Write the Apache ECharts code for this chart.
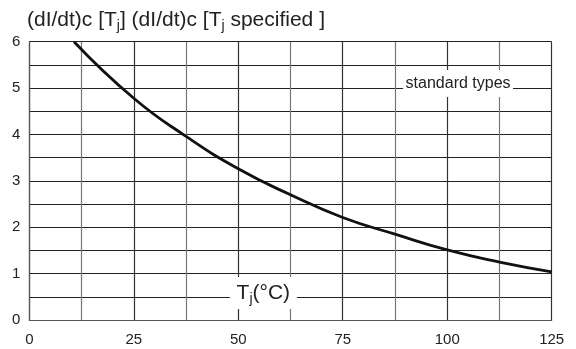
<!DOCTYPE html>
<html>
<head>
<meta charset="utf-8">
<script src="https://cdn.jsdelivr.net/npm/echarts@6/dist/echarts.min.js"></script>
<style>
html,body{margin:0;padding:0;background:#fff;}
#c{width:576px;height:349px;}
</style>
</head>
<body>
<div id="c"></div>
<script>
// Junction temperature Tj (°C)
const tempC = [10.7, 25, 37.5, 50, 62.5, 75, 87.5, 100, 112.5, 125];
// (dI/dt)c[Tj] / (dI/dt)c[Tj specified]
const ratio = [6.0, 4.78, 3.96, 3.26, 2.70, 2.21, 1.85, 1.51, 1.25, 1.04];
const xTicks = [0, 25, 50, 75, 100, 125];
const yTicks = [0, 1, 2, 3, 4, 5, 6];
const seriesLabel = 'standard types';
const seriesLabelAt = [102.6, 5.1];
const axisNameAt = [56.0, 0.58];

const FONT = '"Liberation Sans", Arial, Helvetica, sans-serif';
const chart = echarts.init(document.getElementById('c'), null, {renderer: 'canvas'});

chart.setOption({
  animation: false,
  backgroundColor: '#fff',
  textStyle: {fontFamily: FONT},
  title: {
    text: '{a|(dI/dt)c [T}{s|j}{a|] (dI/dt)c [T}{s|j}{a| specified ]}',
    left: 22, top: 2,
    textStyle: {
      fontFamily: FONT, fontWeight: 'normal',
      rich: {
        a: {fontSize: 21, fontWeight: 'normal', color: '#222', lineHeight: 26, fontFamily: FONT},
        s: {fontSize: 14, fontWeight: 'normal', color: '#222', lineHeight: 16, verticalAlign: 'bottom', fontFamily: FONT}
      }
    }
  },
  grid: {left: 29.3, right: 24.3, top: 41.7, bottom: 29, show: false},
  xAxis: {
    type: 'value', min: 0, max: 125, interval: 12.5,
    axisLine: {show: true, lineStyle: {color: '#555', width: 1.2}},
    axisTick: {show: false},
    axisLabel: {
      margin: 12, fontSize: 15, color: '#222', fontFamily: FONT,
      formatter: v => (xTicks.indexOf(v) >= 0 ? String(v) : '')
    },
    splitLine: {show: true, lineStyle: {color: ['#333', '#777'], width: 1.2}}
  },
  yAxis: {
    type: 'value', min: 0, max: 6, interval: 0.5,
    axisLine: {show: true, lineStyle: {color: '#555', width: 1.2}},
    axisTick: {show: false},
    axisLabel: {
      margin: 9, fontSize: 15, color: '#222', fontFamily: FONT,
      formatter: v => (yTicks.indexOf(v) >= 0 ? String(v) : '')
    },
    splitLine: {show: true, lineStyle: {color: '#222', width: 1.2}}
  },
  series: [{
    type: 'line',
    data: tempC.map((t, i) => [t, ratio[i]]),
    smooth: 0.5,
    showSymbol: false,
    symbol: 'none',
    lineStyle: {color: '#111', width: 2.8},
    z: 5,
    markPoint: {
      silent: true,
      animation: false,
      data: [
        {
          coord: seriesLabelAt,
          symbol: 'rect', symbolSize: [110, 27],
          itemStyle: {color: '#fff'},
          label: {show: true, position: 'inside', formatter: seriesLabel,
                  fontSize: 16, color: '#222', fontFamily: FONT}
        },
        {
          coord: axisNameAt,
          symbol: 'rect', symbolSize: [67, 32],
          itemStyle: {color: '#fff'},
          label: {
            show: true, position: 'inside',
            formatter: '{a|T}{s|j}{a|(°C)}',
            rich: {
              a: {fontSize: 21, color: '#222', lineHeight: 26, fontFamily: FONT},
              s: {fontSize: 14, color: '#222', lineHeight: 16, verticalAlign: 'bottom', fontFamily: FONT}
            }
          }
        }
      ]
    }
  }]
});
</script>
</body>
</html>
